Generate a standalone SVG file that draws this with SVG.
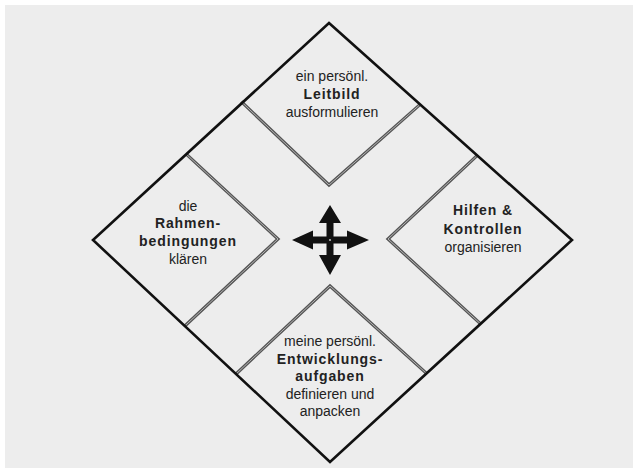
<svg xmlns="http://www.w3.org/2000/svg" width="633" height="468" viewBox="0 0 633 468">
<style>
.bg{fill:#ededed}
.frame{fill:none;stroke:#111;stroke-width:2.6;stroke-linejoin:miter}
.inner-o{fill:none;stroke:#555;stroke-width:3.2;stroke-linejoin:miter}
.inner-i{fill:none;stroke:#b4b4b4;stroke-width:1;stroke-linejoin:miter}
text{font-family:"Liberation Sans",Arial,sans-serif;font-size:14px;fill:#222;text-anchor:middle}
.b{font-weight:bold;letter-spacing:0.9px}
.arrow{fill:#111}
</style>
<rect width="633" height="468" fill="#ffffff"/>
<rect class="bg" x="5" y="5" width="628" height="463"/>

<g id="node-top">
<polyline class="inner-o" points="241.3,101.7 329,185 420.2,104.4"/>
<polyline class="inner-i" points="241.3,101.7 329,185 420.2,104.4"/>
<text x="332" y="81">ein persönl.</text>
<text class="b" x="332" y="98.5">Leitbild</text>
<text x="332" y="116.5">ausformulieren</text>
</g>

<g id="node-left">
<polyline class="inner-o" points="186.3,154.2 278,239 184.8,326"/>
<polyline class="inner-i" points="186.3,154.2 278,239 184.8,326"/>
<text x="188" y="210.5">die</text>
<text class="b" x="188" y="228">Rahmen-</text>
<text class="b" x="188" y="245.5">bedingungen</text>
<text x="188" y="263.5">klären</text>
</g>

<g id="node-right">
<polyline class="inner-o" points="477.3,155.4 388,239 480.6,323.9"/>
<polyline class="inner-i" points="477.3,155.4 388,239 480.6,323.9"/>
<text class="b" x="483" y="215">Hilfen &amp;</text>
<text class="b" x="483" y="234">Kontrollen</text>
<text x="483" y="252">organisieren</text>
</g>

<g id="node-bottom">
<polyline class="inner-o" points="236,374 330,286 426.5,373.4"/>
<polyline class="inner-i" points="236,374 330,286 426.5,373.4"/>
<text x="330" y="346">meine persönl.</text>
<text class="b" x="330" y="363.5">Entwicklungs-</text>
<text class="b" x="330" y="381">aufgaben</text>
<text x="330" y="398.5">definieren und</text>
<text x="330" y="416">anpacken</text>
</g>

<g id="connectors">
<polygon class="frame" points="329,23 572,240 330,462 93,240"/>
<g id="center-arrow">
<polygon class="arrow" points="330,205 341,223 333.5,223 333.5,236.5 347,236.5 347,230.5 369,240 347,249.5 347,243.5 333.5,243.5 333.5,255 341,255 330,275 319,255 326.5,255 326.5,243.5 313,243.5 313,249.5 292,240 313,230.5 313,236.5 326.5,236.5 326.5,223 319,223"/>
<circle cx="330" cy="240" r="1.1" fill="#bbbbbb"/>
</g>
</g>
</svg>
